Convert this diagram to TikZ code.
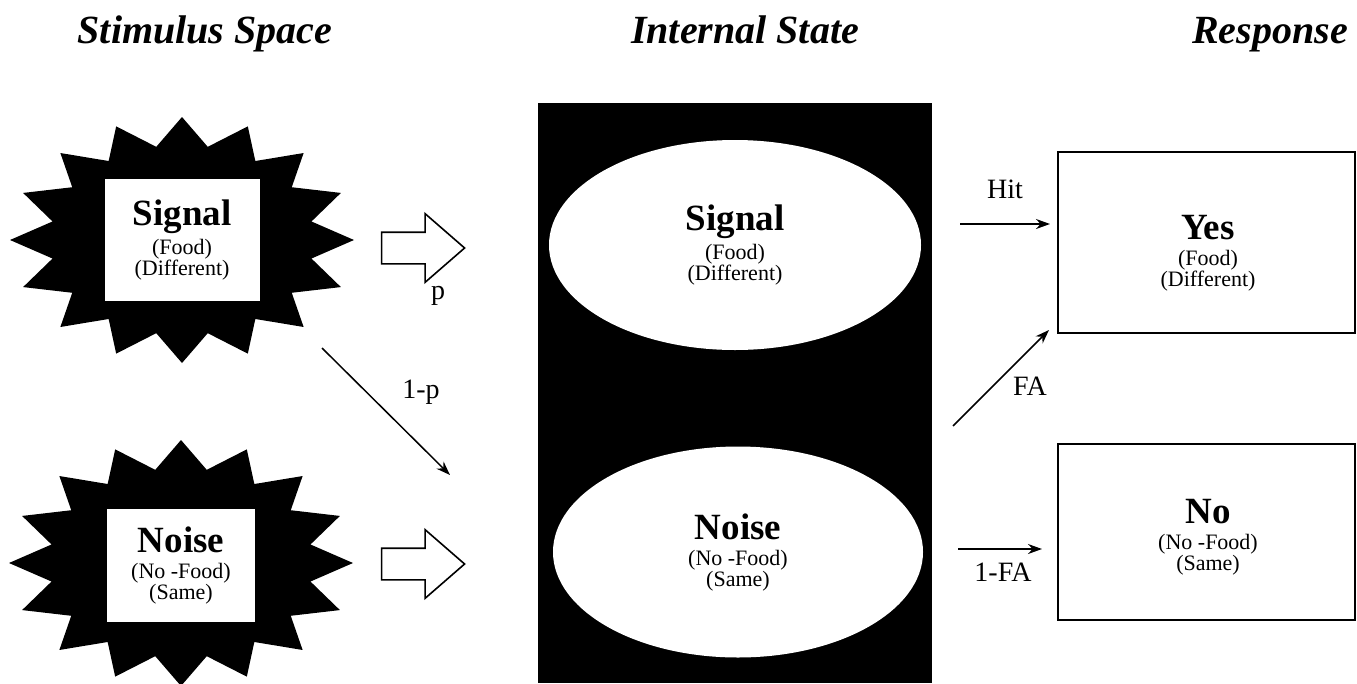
\documentclass[tikz,border=0pt]{standalone}
\usepackage{fontspec}
\setmainfont{Liberation Serif}
\usetikzlibrary{positioning,shapes.arrows,shapes.geometric,arrows.meta}

\tikzset{
  title/.style={font=\fontsize{40}{44}\selectfont\bfseries\itshape, anchor=base},
  inset/.style={fill=white, align=center, inner sep=0pt, font=\fontsize{22}{21}\selectfont},
  lbl/.style={font=\fontsize{28}{30}\selectfont},
  flow/.style={-{Stealth[length=14pt,width=10pt]}, line width=1.5pt},
  hollow/.style={single arrow, draw, line width=1.6pt, minimum height=83pt,
    minimum width=67pt, inner sep=15pt, single arrow head extend=18.5pt,
    single arrow tip angle=82},
  respbox/.style={draw, line width=1.2pt, minimum width=297pt},
  resptext/.style={align=center, font=\fontsize{22}{21}\selectfont},
}
\newcommand{\mainword}[1]{{\fontsize{37}{37}\selectfont\bfseries #1}\\[5pt]}
% 16-point burst around a centre
\newcommand{\burst}[1]{%
  \fill[shift={(#1)}] plot[domain=0:31, samples=32, variable=\k]
    ({ifthenelse(mod(\k,2)==0,172,132)*cos(\k*11.25)},
     {ifthenelse(mod(\k,2)==0,123,95)*sin(\k*11.25)}) -- cycle;}

\begin{document}
\begin{tikzpicture}[x=1pt,y=-1pt]
  \useasboundingbox (0,0) rectangle (1357,683);

  % column titles
  \node[title] (tstim) at (205,43) {Stimulus Space};
  \node[title] (tint) at (745,43) {Internal State};
  \node[title] (tresp) at (1270,43) {Response};

  % stimulus space
  \coordinate (sigc) at (182,240);
  \coordinate (noic) at (181,563);
  \burst{sigc}
  \burst{noic}
  \node[inset, minimum width=155pt, minimum height=122pt] (sigstim) at (sigc)
    {\mainword{Signal}(Food)\\(Different)};
  \node[inset, minimum width=148pt, minimum height=113pt] (noistim) at (181,565)
    {\mainword{Noise}(No -Food)\\(Same)};

  \node[hollow] (arrsig) at (414,248) {};
  \node[hollow] (arrnoi) at (414,564) {};
  \node[lbl] (plbl) at (438,296) {p};
  \coordinate (crossS) at (322,348);
  \coordinate (crossE) at (450,475);
  \draw[flow] (crossS) -- (crossE);
  \node[lbl] (qlbl) at (421,392) {1-p};

  % internal state
  \node[fill=black, minimum width=394pt, minimum height=580pt, inner sep=0pt]
    (inner) at (735,393) {};
  \node[ellipse, fill=white, minimum width=372pt, minimum height=210pt,
    align=center, font=\fontsize{22}{21}\selectfont] (sigint) at (735,245)
    {\mainword{Signal}(Food)\\(Different)};
  \node[ellipse, fill=white, minimum width=370pt, minimum height=211pt,
    align=center, font=\fontsize{22}{21}\selectfont] (noiint) at (738,552)
    {\mainword{Noise}(No -Food)\\(Same)};

  % response
  \node[respbox, minimum height=181pt] (yes) at (1206.5,242.5) {};
  \node[respbox, minimum height=176pt] (no) at (1206.5,532) {};
  \node[resptext] (yestxt) at (1208,253) {\mainword{Yes}(Food)\\(Different)};
  \node[resptext] (notxt) at (1208,537) {\mainword{No}(No -Food)\\(Same)};

  \coordinate (hitS) at (960,224);
  \coordinate (hitE) at (1050,224);
  \coordinate (faS) at (953,426);
  \coordinate (faE) at (1049,330);
  \coordinate (crS) at (958,549);
  \coordinate (crE) at (1042,549);
  \draw[flow] (hitS) -- (hitE);
  \draw[flow] (faS) -- (faE);
  \draw[flow] (crS) -- (crE);
  \node[lbl] (hitlbl) at (1005,189) {Hit};
  \node[lbl] (falbl) at (1030,386) {FA};
  \node[lbl] (crlbl) at (1003,572) {1-FA};
\end{tikzpicture}
\end{document}
